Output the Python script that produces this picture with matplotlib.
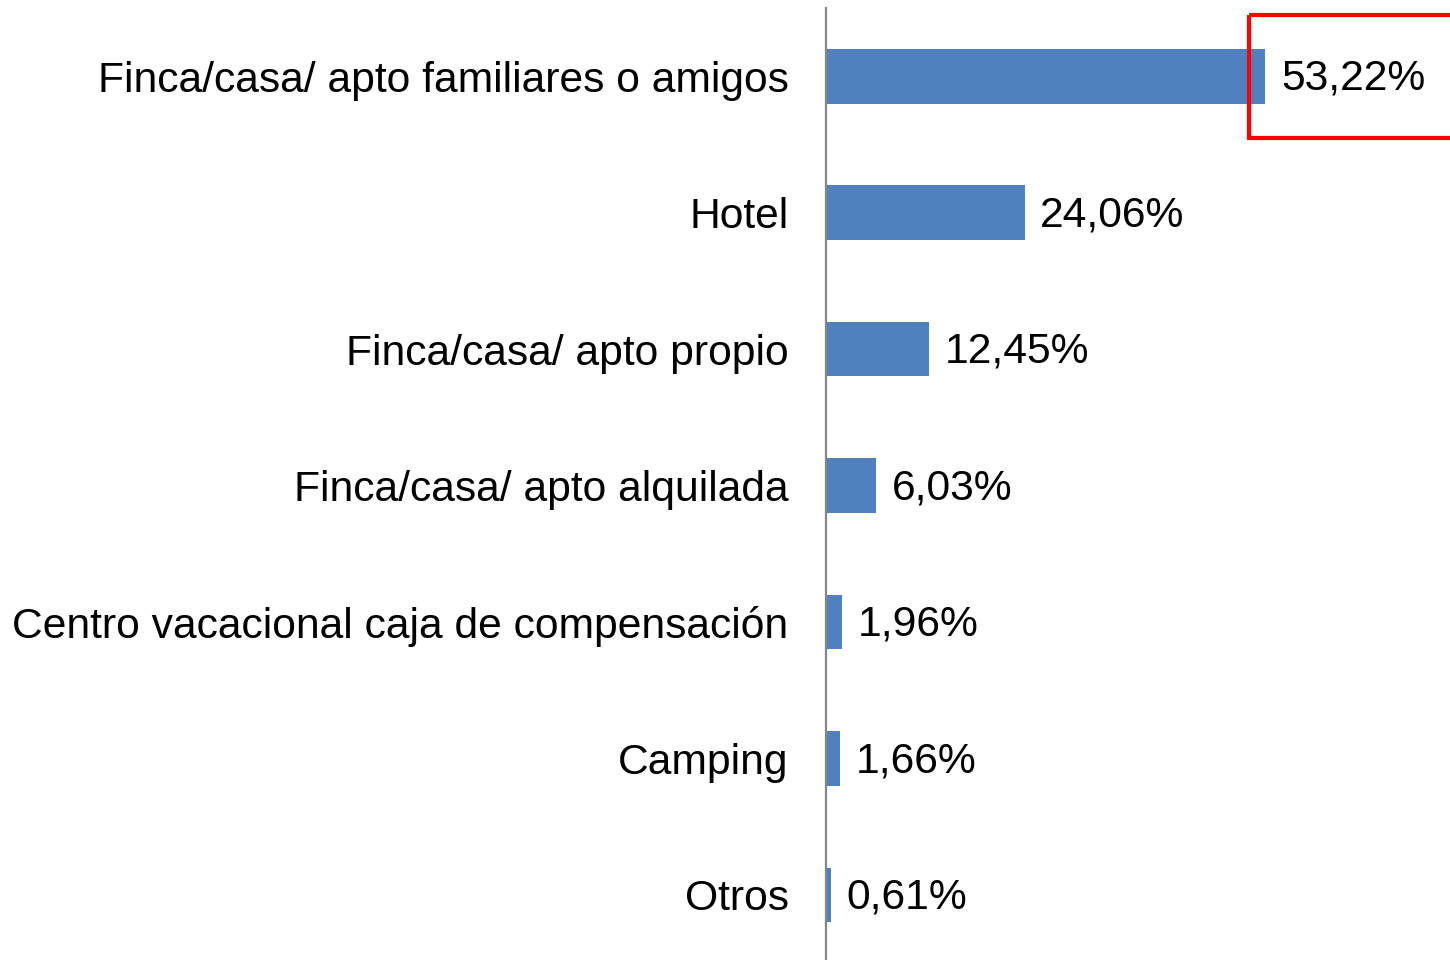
import matplotlib.pyplot as plt
from matplotlib.patches import Rectangle

plt.rcParams['font.family'] = ['Liberation Sans', 'DejaVu Sans']

# tipo de alojamiento y porcentaje
categorias = ['Finca/casa/ apto familiares o amigos', 'Hotel', 'Finca/casa/ apto propio',
              'Finca/casa/ apto alquilada', 'Centro vacacional caja de compensación',
              'Camping', 'Otros']
valores = [53.22, 24.06, 12.45, 6.03, 1.96, 1.66, 0.61]
etiquetas = ['53,22%', '24,06%', '12,45%', '6,03%', '1,96%', '1,66%', '0,61%']

fig = plt.figure(figsize=(14.5, 9.6), dpi=100)
ax = fig.add_axes([826/1450, -3/960, 624/1450, 955/960])

pos = list(range(len(categorias)))
ax.barh(pos, valores, height=0.4, color='#4F81BD')
ax.set_ylim(len(categorias) - 0.5, -0.5)
ax.set_xlim(0, 75.6)

ax.set_yticks(pos)
ax.set_yticklabels(categorias, fontsize=30.7)
ax.tick_params(axis='y', length=0, pad=27)
ax.set_xticks([])
for s in ['top', 'right', 'bottom']:
    ax.spines[s].set_visible(False)
ax.spines['left'].set_color('#868686')
ax.spines['left'].set_linewidth(1.6)

for p, v, t in zip(pos, valores, etiquetas):
    ax.text(v + 1.9, p + 0.02, t, fontsize=30.7, va='center', ha='left')

# recuadro rojo sobre el valor mayor
ax.add_patch(Rectangle((valores[0] - 1.95, -0.45), 30, 0.9, fill=False,
                       edgecolor='#FF0000', linewidth=3, clip_on=False))

fig.savefig('out.png', dpi=100)
